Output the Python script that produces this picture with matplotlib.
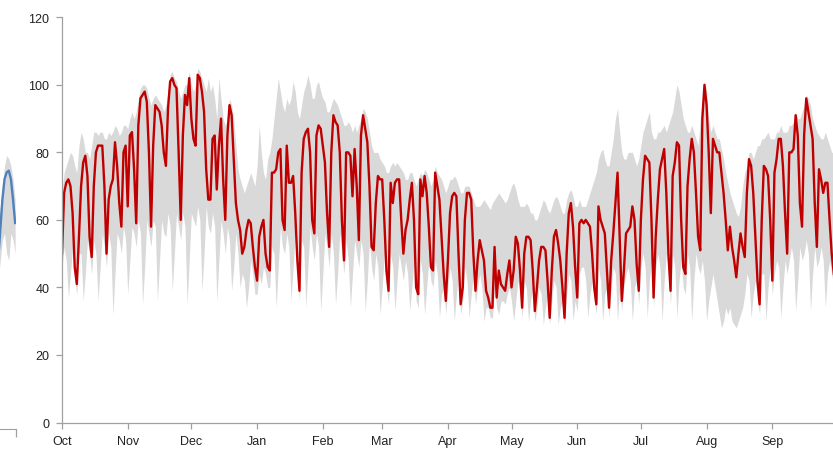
import matplotlib.pyplot as plt
import numpy as np

plt.rcParams['font.family'] = ['Liberation Sans', 'DejaVu Sans']

months = ['Oct', 'Nov', 'Dec', 'Jan', 'Feb', 'Mar', 'Apr', 'May', 'Jun', 'Jul', 'Aug', 'Sep']
month_start = [0, 31, 61, 92, 123, 151, 182, 212, 243, 273, 304, 335]
y_ticks = [0, 20, 40, 60, 80, 100, 120]

# daily values, one row per week (Oct 1 .. Sep 30)
load = [
    50, 68, 71, 72, 70, 62, 46,
    41, 55, 70, 77, 79, 73, 55,
    49, 70, 80, 82, 82, 82, 70,
    50, 66, 70, 72, 83, 76, 65,
    58, 80, 82, 64, 85, 86, 75,
    59, 88, 96, 97, 98, 95, 80,
    58, 82, 94, 93, 92, 88, 80,
    76, 93, 101, 102, 100, 99, 80,
    60, 85, 97, 94, 102, 90, 84,
    82, 103, 102, 98, 92, 75, 66,
    66, 84, 85, 69, 82, 90, 72,
    60, 85, 94, 91, 78, 65, 60,
    57, 50, 52, 57, 60, 59, 52,
    46, 42, 55, 58, 60, 50, 46,
    45, 74, 74, 75, 80, 81, 60,
    57, 82, 71, 71, 73, 62, 48,
    39, 74, 84, 86, 87, 80, 60,
    56, 85, 88, 87, 82, 77, 62,
    52, 80, 91, 89, 88, 80, 60,
    48, 80, 80, 79, 67, 81, 70,
    54, 85, 91, 87, 83, 70, 52,
    51, 65, 73, 72, 72, 60, 45,
    39, 71, 65, 71, 72, 72, 60,
    50, 57, 60, 66, 71, 60, 40,
    38, 72, 67, 73, 68, 58, 46,
    45, 74, 70, 66, 55, 44, 36,
    48, 62, 67, 68, 67, 50, 35,
    40, 60, 68, 68, 66, 50, 39,
    48, 54, 51, 48, 39, 37, 34,
    34, 52, 37, 45, 41, 40, 39,
    44, 48, 40, 45, 55, 53, 45,
    34, 50, 55, 55, 54, 45, 33,
    40, 48, 52, 52, 51, 42, 31,
    45, 55, 57, 53, 48, 40, 31,
    50, 62, 65, 58, 46, 37, 59,
    60, 59, 60, 59, 58, 50, 40,
    35, 64, 60, 58, 56, 45, 34,
    48, 56, 65, 74, 55, 36, 45,
    56, 57, 58, 64, 60, 47, 39,
    60, 72, 79, 78, 77, 60, 37,
    55, 66, 75, 78, 81, 68, 50,
    39, 73, 77, 83, 82, 60, 46,
    44, 70, 78, 84, 80, 68, 55,
    51, 90, 100, 94, 80, 62, 84,
    82, 80, 80, 74, 68, 60, 51,
    58, 52, 48, 43, 50, 56, 52,
    49, 68, 78, 76, 68, 55, 42,
    35, 60, 76, 75, 73, 60, 42,
    74, 78, 84, 84, 76, 62, 50,
    80, 80, 81, 91, 85, 65, 58,
    85, 96, 92, 88, 84, 65, 52,
    75, 72, 68, 71, 71, 60, 50,
    44,
]

# historical range (grey band)
band_hi = [
    68, 74, 76, 78, 80, 79, 76,
    74, 82, 86, 84, 80, 80, 78,
    82, 86, 86, 85, 86, 86, 84,
    84, 86, 85, 86, 88, 87, 85,
    86, 88, 88, 87, 90, 92, 90,
    92, 96, 99, 100, 100, 99, 96,
    94, 96, 97, 96, 95, 94, 92,
    94, 98, 103, 104, 102, 101, 98,
    96, 98, 100, 100, 104, 100, 98,
    100, 105, 104, 102, 100, 98, 102,
    98, 100, 96, 90, 102, 96, 90,
    88, 90, 96, 94, 90, 82, 75,
    72, 70, 68, 70, 72, 74, 72,
    70, 76, 88, 80, 74, 72, 78,
    80, 84, 90, 96, 102, 98, 94,
    92, 96, 94, 96, 101, 98, 92,
    90, 94, 98, 100, 103, 100, 96,
    96, 100, 101, 98, 96, 95, 92,
    92, 94, 96, 95, 94, 92, 90,
    88, 88, 89, 88, 86, 88, 86,
    88, 90, 93, 92, 90, 86, 82,
    80, 80, 80, 78, 77, 76, 74,
    74, 76, 77, 76, 77, 76, 75,
    74, 72, 72, 74, 74, 72, 70,
    72, 74, 73, 75, 74, 72, 70,
    72, 76, 74, 73, 72, 70, 68,
    70, 72, 72, 73, 72, 70, 68,
    68, 70, 70, 70, 68, 66, 64,
    64, 64, 65, 66, 65, 64, 63,
    65, 66, 67, 68, 67, 66, 65,
    66, 68, 70, 71, 69, 66, 64,
    64, 64, 65, 64, 62, 62, 60,
    60, 62, 64, 66, 65, 63, 62,
    64, 66, 67, 66, 64, 62, 62,
    66, 68, 69, 67, 64, 64, 66,
    64, 64, 64, 66, 68, 70, 72,
    74, 78, 80, 81, 78, 76, 76,
    80, 84, 90, 93, 86, 80, 78,
    78, 80, 80, 80, 78, 76, 78,
    82, 86, 88, 90, 92, 86, 84,
    84, 86, 86, 87, 88, 86, 88,
    90, 92, 96, 100, 98, 94, 90,
    88, 86, 86, 88, 86, 84, 82,
    90, 96, 101, 98, 90, 86, 88,
    86, 84, 84, 81, 78, 74, 71,
    68, 66, 64, 62, 61, 64, 70,
    74, 76, 80, 80, 78, 80, 82,
    82, 84, 84, 85, 86, 84, 84,
    84, 86, 86, 88, 86, 86, 86,
    88, 88, 89, 92, 90, 90, 92,
    94, 97, 96, 94, 90, 88, 86,
    85, 84, 84, 86, 84, 82, 80,
    80,
]

band_lo = [
    46, 52, 48, 37, 44, 52, 42,
    38, 50, 50, 36, 44, 54, 50,
    44, 54, 50, 36, 46, 56, 52,
    46, 56, 52, 32, 44, 56, 54,
    50, 58, 54, 38, 48, 58, 56,
    52, 60, 56, 35, 46, 60, 56,
    52, 60, 58, 36, 48, 60, 56,
    55, 62, 58, 39, 50, 62, 58,
    54, 62, 58, 35, 48, 62, 60,
    58, 64, 60, 39, 50, 64, 58,
    56, 62, 58, 36, 48, 60, 56,
    50, 58, 54, 39, 46, 56, 50,
    40, 44, 42, 34, 40, 48, 44,
    38, 38, 44, 41, 46, 44, 40,
    40, 52, 50, 34, 46, 58, 52,
    50, 56, 52, 36, 46, 56, 44,
    36, 54, 52, 34, 46, 58, 52,
    48, 56, 52, 33, 44, 56, 52,
    46, 56, 50, 35, 44, 56, 50,
    44, 54, 48, 34, 44, 54, 50,
    46, 54, 50, 33, 42, 54, 46,
    42, 50, 46, 32, 40, 50, 40,
    35, 50, 46, 33, 42, 50, 46,
    42, 48, 44, 33, 40, 48, 36,
    34, 48, 44, 32, 40, 48, 42,
    40, 48, 44, 31, 38, 40, 32,
    40, 46, 42, 30, 38, 44, 32,
    36, 46, 42, 31, 38, 44, 35,
    40, 44, 40, 30, 34, 34, 31,
    31, 40, 34, 32, 36, 36, 35,
    38, 40, 36, 30, 36, 42, 38,
    31, 42, 40, 30, 36, 40, 30,
    34, 40, 38, 29, 34, 38, 29,
    36, 42, 40, 29, 34, 36, 29,
    38, 44, 42, 30, 36, 33, 44,
    46, 46, 42, 31, 38, 42, 36,
    32, 46, 42, 30, 38, 40, 31,
    40, 46, 44, 30, 40, 33, 40,
    44, 46, 42, 30, 40, 42, 35,
    46, 50, 46, 31, 42, 48, 34,
    46, 50, 46, 30, 42, 50, 44,
    35, 50, 46, 31, 42, 48, 40,
    38, 50, 46, 30, 42, 50, 46,
    44, 48, 42, 30, 36, 40, 44,
    40, 36, 32, 28, 30, 34, 32,
    34, 30, 29, 28, 30, 32, 34,
    38, 44, 42, 31, 38, 42, 36,
    32, 44, 44, 30, 40, 46, 38,
    44, 48, 46, 31, 40, 48, 44,
    48, 52, 48, 33, 42, 52, 48,
    50, 54, 50, 33, 44, 52, 46,
    48, 52, 48, 34, 44, 48, 44,
    40,
]

# tail of the neighbouring chart, cut off at the left edge
prev_days = [18, 19, 20, 21, 22, 23, 24, 25, 26]
prev_load = [50, 59, 68, 74, 76, 76.5, 74, 68, 61]
prev_hi = [60, 66, 72, 78, 81, 80, 78, 74, 68]
prev_lo = [44, 50, 56, 58, 52, 50, 58, 56, 52]

days = np.arange(len(load))
axis_col = '#a0a0a0'
text_col = '#222222'

fig = plt.figure(figsize=(8.33, 4.56), dpi=100)
W, H = 833, 456

ax = fig.add_axes([62 / W, 32.5 / H, 775 / W, 405.2 / H])
ax.fill_between(days, band_lo, band_hi, color='#d9d9d9', lw=0)
ax.plot(days, load, color='#c00000', lw=1.7)
ax.set_xlim(0, 365.5)
ax.set_ylim(0, 120)
ax.set_yticks(y_ticks)
ax.set_xticks(month_start)
ax.set_xticklabels(months)
for s in ['top', 'right']:
    ax.spines[s].set_visible(False)
for s in ['left', 'bottom']:
    ax.spines[s].set_color(axis_col)
    ax.spines[s].set_linewidth(0.9)
ax.tick_params(direction='out', length=4, width=0.9, color=axis_col,
               labelsize=9, labelcolor=text_col)
ax.tick_params(axis='y', pad=5)
ax.tick_params(axis='x', pad=5)

# left neighbour chart fragment
ax2 = fig.add_axes([-40 / W, 26 / H, 56 / W, 405.2 / H])
ax2.set_facecolor('none')
ax2.fill_between(prev_days, prev_lo, prev_hi, color='#d9d9d9', lw=0)
ax2.plot(prev_days, prev_load, color='#4f81bd', lw=1.7)
ax2.set_xlim(0, 26.4)
ax2.set_ylim(0, 120)
ax2.set_yticks([])
ax2.set_xticks([26.3])
ax2.set_xticklabels([''])
for s in ['top', 'right', 'left']:
    ax2.spines[s].set_visible(False)
ax2.spines['bottom'].set_color(axis_col)
ax2.tick_params(axis='x', direction='out', length=6, width=0.9, color=axis_col)

fig.savefig('out.png', dpi=100)
